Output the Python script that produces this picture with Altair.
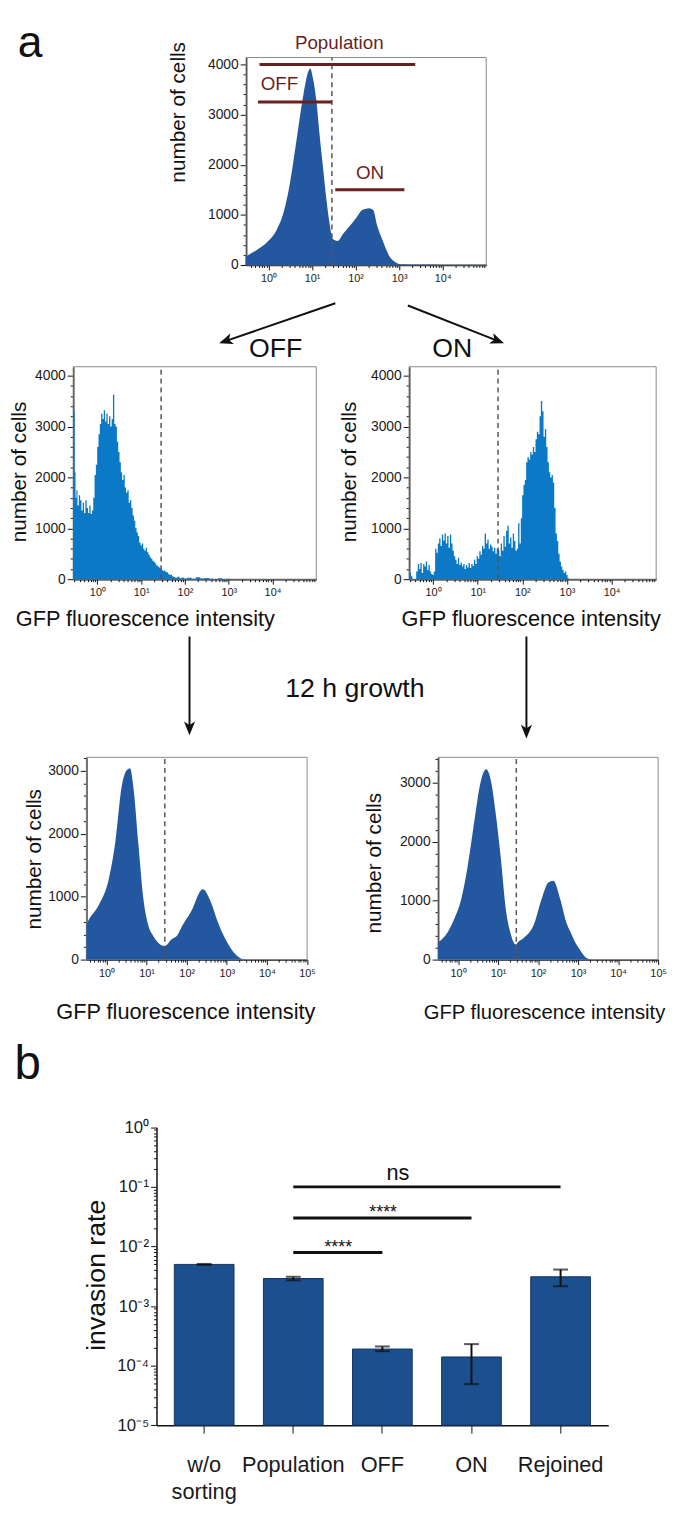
import altair as alt
import numpy as np
import pandas as pd

FONT = "Liberation Sans"

# ---------------- data ----------------
# top histogram (log10 GFP intensity, number of cells)
top_log = [-0.53, -0.49, -0.27, -0.04, 0.19, 0.34, 0.49, 0.64, 0.80, 0.91, 0.96, 1.02, 1.10, 1.17,
           1.25, 1.33, 1.40, 1.48, 1.59, 1.70, 1.86, 2.01, 2.16, 2.31, 2.40, 2.50, 2.61, 2.77, 2.92,
           3.07, 3.5, 4.0, 4.5, 5.0]
top_cnt = [160, 184, 300, 446, 708, 1036, 1626, 2479, 3397, 3855, 3921, 3725, 3265, 2610,
           1954, 1298, 839, 511, 479, 610, 774, 938, 1102, 1134, 1102, 774, 511, 184, 52,
           13, 8, 5, 5, 5]

# sorted OFF population
off_log = [-0.55, -0.53, -0.51, -0.49, -0.47, -0.44, -0.41, -0.38, -0.35, -0.32, -0.29, -0.26, -0.23,
           -0.20, -0.17, -0.14, -0.11, -0.08, -0.05, -0.02, 0.01, 0.04, 0.07, 0.10, 0.13, 0.16,
           0.19, 0.22, 0.25, 0.28, 0.31, 0.34, 0.37, 0.40, 0.43, 0.46, 0.49, 0.52, 0.55, 0.58,
           0.61, 0.64, 0.67, 0.70, 0.73, 0.76, 0.79, 0.82, 0.85, 0.88, 0.91, 0.94, 0.97, 1.00,
           1.03, 1.06, 1.09, 1.12, 1.15, 1.18, 1.21, 1.24, 1.27, 1.30, 1.33, 1.36, 1.39, 1.42,
           1.45, 1.48, 1.51, 1.54, 1.57, 1.60, 1.63, 1.66, 1.69, 1.72, 1.75, 1.80, 1.85, 1.90,
           1.95, 2.00, 2.10, 2.20, 2.30, 2.40, 2.50, 2.60, 2.70, 2.80, 2.90, 3.00, 3.05]
off_cnt = [3500, 3300, 2100, 1600, 1750, 1450, 1650, 1550, 1350, 1500, 1300, 1550, 1400,
           1300, 1450, 1280, 1350, 1600, 2050, 2250, 2600, 2850, 3050, 3250, 3150, 3320,
           3100, 3250, 3050, 3200, 3000, 3150, 3630, 3050, 3000, 2700, 2500, 2300, 2100, 1950,
           2050, 1800, 1700, 1750, 1500, 1550, 1400, 1250, 1150, 1000, 920, 850, 720, 660,
           700, 600, 560, 620, 530, 480, 430, 400, 360, 340, 310, 270, 250, 230,
           210, 180, 160, 170, 140, 130, 100, 80, 90, 60, 45, 30, 50, 20,
           35, 15, 30, 10, 40, 15, 25, 10, 5, 20, 5, 10, 0]

# sorted ON population
on_log = [-0.54, -0.51, -0.48, -0.45, -0.40, -0.36, -0.33, -0.30, -0.27, -0.24, -0.21, -0.18,
          -0.15, -0.12, -0.09, -0.06, -0.03, 0.00, 0.03, 0.06, 0.09, 0.12, 0.15, 0.18, 0.21,
          0.24, 0.27, 0.30, 0.33, 0.36, 0.39, 0.42, 0.45, 0.48, 0.51, 0.54, 0.57, 0.60, 0.63,
          0.66, 0.69, 0.72, 0.75, 0.78, 0.81, 0.84, 0.87, 0.90, 0.93, 0.96, 0.99, 1.02, 1.05,
          1.08, 1.11, 1.14, 1.17, 1.20, 1.23, 1.26, 1.29, 1.32, 1.35, 1.38, 1.41, 1.44, 1.47,
          1.50, 1.53, 1.56, 1.59, 1.62, 1.65, 1.68, 1.71, 1.74, 1.77, 1.80, 1.83, 1.86, 1.89,
          1.92, 1.95, 1.98, 2.01, 2.04, 2.07, 2.10, 2.13, 2.16, 2.19, 2.22, 2.25, 2.28, 2.31,
          2.34, 2.37, 2.40, 2.43, 2.46, 2.49, 2.52, 2.55, 2.58, 2.61, 2.64, 2.67, 2.70, 2.73,
          2.76, 2.79, 2.82, 2.85, 2.88, 2.91, 2.94, 2.97, 3.00, 3.03, 3.06]
on_cnt = [200, 120, 60, 0, 0, 150, 300, 200, 320, 120, 300, 250,
          350, 180, 280, 150, 100, 80, 150, 600, 520, 700, 800, 650, 880,
          760, 900, 700, 850, 620, 880, 700, 560, 450, 380, 300, 420, 280, 330,
          250, 300, 200, 280, 230, 320, 220, 300, 260, 380, 300, 450, 400, 550,
          480, 650, 600, 900, 700, 780, 600, 680, 640, 550, 620, 500, 600, 580,
          450, 700, 560, 850, 640, 950, 1050, 700, 820, 620, 900, 750, 560, 600,
          1100, 700, 1200, 1650, 1850, 1950, 2300, 2400, 2350, 2500, 2450, 2600, 2500, 2750,
          2900, 2850, 3200, 3500, 3300, 2800, 2950, 2600, 2300, 2100, 2000, 2050, 1900, 1400,
          900, 750, 500, 350, 250, 180, 120, 150, 80, 20, 0]

# after 12 h growth, from OFF
gOff_log = [-0.5, -0.44, -0.19, 0.06, 0.22, 0.38, 0.51, 0.59, 0.67, 0.80, 0.92, 1.04, 1.17, 1.29,
            1.45, 1.62, 1.78, 1.86, 2.11, 2.40, 2.60, 2.77, 2.93, 3.18, 3.42, 3.6, 5.0]
gOff_cnt = [560, 633, 868, 1287, 1863, 2752, 3014, 3040, 2752, 1810, 973, 554, 372, 267,
            215, 319, 400, 502, 764, 1120, 921, 607, 370, 110, 5, 0, 0]

# after 12 h growth, from ON
gOn_log = [-0.5, -0.25, -0.09, 0.08, 0.24, 0.41, 0.57, 0.70, 0.82, 0.94, 1.07, 1.19, 1.32, 1.44,
           1.50, 1.64, 1.89, 2.09, 2.26, 2.38, 2.55, 2.71, 2.80, 2.90, 3.04, 3.20, 3.35, 5.0]
gOn_cnt = [290, 478, 700, 1033, 1589, 2367, 3033, 3228, 3033, 2478, 1700, 867, 422, 256,
           300, 367, 589, 1033, 1311, 1339, 1033, 620, 480, 330, 170, 33, 0, 0]

gate_gfp = 28.5

# sorting gates drawn on the top histogram
gate_lab = ["Population", "OFF", "ON"]
gate_from = [0.62, 0.57, 34]
gate_to = [2340, 28.5, 1320]
gate_cells = [4000, 3250, 1500]
gate_lab_gfp = [42, 1.78, 215]
gate_lab_cells = [4302, 3494, 1720]

# panel b
bar_cat = ["w/o sorting", "Population", "OFF", "ON", "Rejoined"]
bar_val = [5.0e-3, 2.9e-3, 1.9e-4, 1.4e-4, 3.1e-3]
bar_lo = [4.9e-3, 2.7e-3, 1.75e-4, 4.9e-5, 2.15e-3]
bar_hi = [5.1e-3, 3.1e-3, 2.1e-4, 2.3e-4, 4.1e-3]
sig_from = ["Population", "Population", "Population"]
sig_to = ["OFF", "ON", "Rejoined"]
sig_y = [7.9e-3, 3.0e-2, 1.0e-1]
sig_lab = ["****", "****", "ns"]

# ---------------- layout & styles ----------------
W, H = 670, 1505
DARK_BLUE = "#2358a0"
LIGHT_BLUE = "#0b79c6"
BAR_BLUE = "#1b4f8e"
GATE_RED = "#6b1f1f"
SUP = {1: "10⁰", 10: "10¹", 100: "10²", 1000: "10³", 10000: "10⁴", 100000: "10⁵"}


def log_ticks(lo, hi, label_top):
    vals = []
    for k in range(-1, 6):
        for m in range(1, 10):
            v = round(m * 10.0 ** k, 6)
            if lo <= v <= hi and not (v >= 1e5 and label_top < 1e5):
                vals.append(v)
    return vals


def sup_expr(majors):
    e = "''"
    for v in reversed(majors):
        e = f"datum.value == {v} ? '{SUP[v]}' : {e}"
    return e


def histogram(logs, cnts, color, xlo, ymax, xr, yr, label_top, tx, ty, interp, extra=()):
    df = pd.DataFrame({"gfp": np.power(10.0, np.array(logs)), "cells": cnts})
    majors = [v for v in SUP if v <= label_top]
    xscale = alt.Scale(type="log", domain=[xlo, 1e5], nice=False, range=list(xr))
    yscale = alt.Scale(domain=[0, ymax], nice=False, zero=True, range=list(yr))
    major_test = "indexof([1,10,100,1000,10000,100000], datum.value) >= 0"
    xaxis = alt.Axis(orient="bottom", offset=yr[0] - H,
                     values=log_ticks(xlo, 1e5, label_top), labelExpr=sup_expr(majors),
                     tickSize={"condition": {"test": major_test, "value": 5}, "value": 2.5},
                     labelFontSize=11, labelPadding=3, labelOverlap=False, labelFlush=False,
                     grid=False, title=None, domainWidth=1.5)
    yaxis = alt.Axis(orient="left", offset=-xr[0],
                     values=list(range(0, int(ymax) + 1, 200)),
                     labelExpr="datum.value % 1000 == 0 ? format(datum.value, 'd') : ''",
                     tickSize={"condition": {"test": "datum.value % 1000 == 0", "value": 6}, "value": 3},
                     labelFontSize=14, labelPadding=2, labelOverlap=False, grid=False,
                     title="number of cells", titleFontSize=21, titleAngle=270,
                     titleBaseline="alphabetic", titleAlign="center", titleX=tx, titleY=ty,
                     domainWidth=1.5)
    X = alt.X("gfp:Q", scale=xscale, axis=xaxis)
    Y = alt.Y("cells:Q", scale=yscale, axis=yaxis)
    frame = alt.Chart(pd.DataFrame({"gfp": [xlo], "gfp2": [1e5], "cells": [0], "cells2": [ymax]})
                      ).mark_rect(fillOpacity=0, stroke="#8a8a8a", strokeWidth=1).encode(
        x=X, x2="gfp2:Q", y=Y, y2="cells2:Q")
    area = alt.Chart(df).mark_area(color=color, interpolate=interp, opacity=1).encode(
        x=X, y=Y, y2=alt.datum(0))
    gate = alt.Chart(pd.DataFrame({"gfp": [gate_gfp], "cells": [0], "cells2": [ymax]})).mark_rule(
        color="#555555", strokeDash=[5, 4], strokeWidth=1.5).encode(x=X, y=Y, y2="cells2:Q")
    return alt.layer(frame, area, gate, *extra)


# ---------------- top histogram with gates ----------------
gdf = pd.DataFrame({"gfp": gate_from, "gfp2": gate_to, "cells": gate_cells})
tdf = pd.DataFrame({"gfp": gate_lab_gfp, "cells": gate_lab_cells, "lab": gate_lab})
gate_rules = alt.Chart(gdf).mark_rule(color=GATE_RED, strokeWidth=3).encode(
    x="gfp:Q", x2="gfp2:Q", y="cells:Q")
gate_text = alt.Chart(tdf).mark_text(color=GATE_RED, fontSize=19, font=FONT,
                                     baseline="alphabetic").encode(
    x="gfp:Q", y="cells:Q", text="lab:N")

top = histogram(top_log, top_cnt, DARK_BLUE, 0.305, 4138, (241, 484), (251, 41), 10000, -62, 96,
                "monotone", extra=(gate_rules, gate_text))
midL = histogram(off_log, off_cnt, LIGHT_BLUE, 0.28, 4175, (66, 312), (569, 354), 10000, -48, 460,
                 "step")
midR = histogram(on_log, on_cnt, LIGHT_BLUE, 0.29, 4175, (406, 656), (569, 354), 10000, -54, 460,
                 "step")
botL = histogram(gOff_log, gOff_cnt, DARK_BLUE, 0.316, 3215, (79.3, 302.7), (954, 749.3), 100000,
                 -46, 852, "monotone")
botR = histogram(gOn_log, gOn_cnt, DARK_BLUE, 0.316, 3430, (435.3, 658), (954, 749.3), 100000,
                 -58, 856, "monotone")

# ---------------- panel b ----------------
BX = (150.3, 607.5)
BY = (1425.3, 1123.7)
bdf = pd.DataFrame({"cat": bar_cat, "rate": bar_val, "lo": bar_lo, "hi": bar_hi})
ysc = alt.Scale(type="log", domain=[1e-5, 1], nice=False, range=list(BY))
decades = [1, 0.1, 0.01, 0.001, 0.0001, 1e-05]
dec_lab = ["10⁰", "10⁻¹", "10⁻²", "10⁻³", "10⁻⁴", "10⁻⁵"]
yexpr = "''"
for v, s in zip(reversed(decades), reversed(dec_lab)):
    yexpr = f"datum.value == {v!r} ? '{s}' : {yexpr}"
yvals = [1.0] + [round(m * 10.0 ** k, 12) for k in range(-5, 0) for m in range(1, 10)]
ymajor = "indexof([1,0.1,0.01,0.001,0.0001,1e-05], datum.value) >= 0"
yaxis_b = alt.Axis(orient="left", offset=-BX[0], values=yvals, labelExpr=yexpr, labelFontSize=17,
                   labelPadding=2, labelOverlap=False, labelFlush=False, grid=False,
                   tickSize={"condition": {"test": ymajor, "value": 6}, "value": 3},
                   title="invasion rate", titleFontSize=27, titleAngle=270,
                   titleBaseline="alphabetic", titleAlign="center", titleX=-53, titleY=1273,
                   domainWidth=1.5)
xaxis_b = alt.Axis(orient="bottom", offset=BY[0] - H,
                   labelExpr="datum.value == 'w/o sorting' ? ['w/o', 'sorting'] : datum.value",
                   labelFontSize=22, labelPadding=22, labelAngle=0, labelBaseline="top",
                   labelLineHeight=27, tickSize=8, title=None, domainWidth=1.5)
xsc = alt.Scale(domain=bar_cat, paddingInner=0.33, paddingOuter=0.2, range=list(BX))
XB = alt.X("cat:N", scale=xsc, axis=xaxis_b)

bars = alt.Chart(bdf).mark_bar(color=BAR_BLUE, stroke="#15345e", strokeWidth=1).encode(
    x=XB, y=alt.Y("rate:Q", scale=ysc, axis=yaxis_b), y2=alt.datum(1e-5))
err = alt.Chart(bdf).mark_rule(color="#111111", strokeWidth=2).encode(
    x="cat:N", y="lo:Q", y2="hi:Q")
cap_lo = alt.Chart(bdf).mark_tick(color="#111111", thickness=2, size=15).encode(x="cat:N", y="lo:Q")
cap_hi = alt.Chart(bdf).mark_tick(color="#111111", thickness=2, size=15).encode(x="cat:N", y="hi:Q")
sdf = pd.DataFrame({"a": sig_from, "b": sig_to, "sy": sig_y, "lab": sig_lab})
sig_rule = alt.Chart(sdf).mark_rule(color="#111111", strokeWidth=3).encode(
    x=alt.X("a:N", bandPosition=0.5), x2=alt.X2("b:N", bandPosition=0.5), y="sy:Q")
sig_layers = []
label_dx = [45.5, 91, 106]
label_dy = [0, 0, -7]
label_fs = [18, 18, 22]
for i in range(3):
    sig_layers.append(alt.Chart(sdf.iloc[[i]]).mark_text(
        font=FONT, fontSize=label_fs[i], dx=label_dx[i], dy=label_dy[i], baseline="alphabetic",
        color="#111111").encode(x="a:N", y="sy:Q", text="lab:N"))
bar = alt.layer(bars, err, cap_lo, cap_hi, sig_rule, *sig_layers)

# ---------------- annotations (page text and arrows) ----------------
ann_text = [
    (22.5, 41, "a", 45),
    (271, 343.7, "OFF", 27), (449.5, 343.7, "ON", 27),
    (139, 616, "GFP fluorescence intensity", 22), (529.5, 616, "GFP fluorescence intensity", 22),
    (351, 688.7, "12 h growth", 27),
    (180, 1014.5, "GFP fluorescence intensity", 22), (543, 1014.5, "GFP fluorescence intensity", 20.5),
    (20, 1075, "b", 48),
]
ann_arrows = [
    (331.3, 289.7, 213.7, 330.3), (404.7, 292, 502, 330.3),
    (183.7, 627, 183.7, 727), (524.7, 627, 524.7, 730.3),
]
axs = alt.Scale(domain=[0, W], range=[0, W], nice=False, zero=False)
ays = alt.Scale(domain=[0, H], range=[0, H], nice=False, zero=False)
AX = alt.X("x:Q", scale=axs, axis=None)
AY = alt.Y("y:Q", scale=ays, axis=None)
txt_df = pd.DataFrame(ann_text, columns=["x", "y", "t", "fs"])
r = 7.5
rows, heads = [], []
for (x1, y1, x2, y2) in ann_arrows:
    L = np.hypot(x2 - x1, y2 - y1)
    ux, uy = (x2 - x1) / L, (y2 - y1) / L
    hx, hy = x2 - r * ux, y2 - r * uy
    ang = (np.degrees(np.arctan2(ux, -uy)) + 360) % 360
    rows.append({"x": x1, "y": y1, "x2": hx, "y2": hy})
    heads.append({"x": hx, "y": hy, "ang": ang})
ann = alt.layer(
    alt.Chart(txt_df).mark_text(clip=True, align="center", baseline="alphabetic", font=FONT,
                                color="#111111").encode(
        x=AX, y=AY, text="t:N", size=alt.Size("fs:Q", scale=None)),
    alt.Chart(pd.DataFrame(rows)).mark_rule(color="#111111", strokeWidth=2).encode(
        x=AX, y=AY, x2="x2:Q", y2="y2:Q"),
    alt.Chart(pd.DataFrame(heads)).mark_point(
        shape="M0,-1L0.75,0.85L0,0.4L-0.75,0.85Z", filled=True, size=225, opacity=1,
        color="#111111", strokeWidth=0).encode(
        x=AX, y=AY, angle=alt.Angle("ang:Q", scale=None)),
)

chart = alt.layer(top, midL, midR, botL, botR, bar, ann).resolve_scale(
    x="independent", y="independent").properties(
    width=W, height=H, padding={"left": 0, "top": 0, "right": 0, "bottom": 0}
).configure(font=FONT).configure_axis(
    labelFont=FONT, titleFont=FONT, domainColor="#111111", tickColor="#111111",
    labelColor="#1a1a1a", titleColor="#111111", titleFontWeight="normal", grid=False
).configure_view(stroke=None)

chart.save("out.html", embed_options={"renderer": "svg", "actions": False})
